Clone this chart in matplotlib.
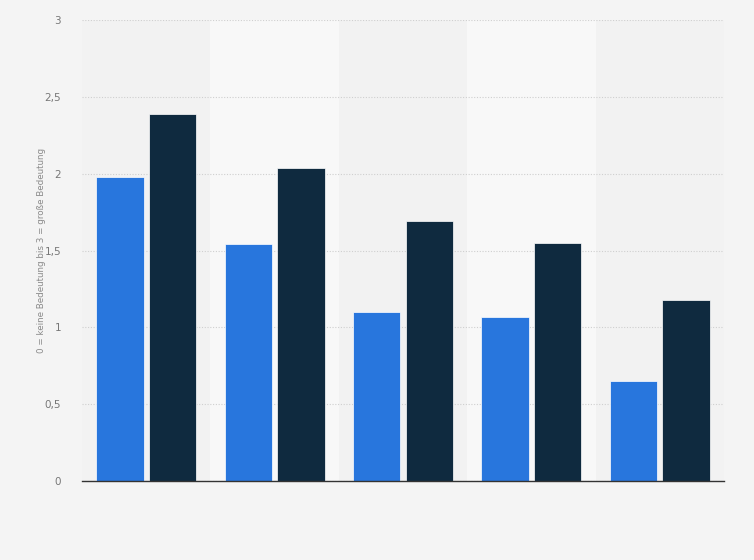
import matplotlib
matplotlib.use("Agg")
import matplotlib.pyplot as plt
import numpy as np

categories = ["1", "2", "3", "4", "5"]
series_a = [1.98, 1.54, 1.10, 1.07, 0.65]
series_b = [2.39, 2.04, 1.69, 1.55, 1.18]
yticks = [0, 0.5, 1, 1.5, 2, 2.5, 3]
ytick_labels = ["0", "0,5", "1", "1,5", "2", "2,5", "3"]
ylabel = "0 = keine Bedeutung bis 3 = große Bedeutung"

fig = plt.figure(figsize=(7.54, 5.6), dpi=100, facecolor="#f4f4f4")
ax = fig.add_axes([82/754, 79/560, 642/754, 461/560])
ax.set_facecolor("#f2f2f2")

x = np.arange(len(categories))
for i in range(len(categories)):
    if i % 2 == 1:
        ax.axvspan(i - 0.5, i + 0.5, color="#f8f8f8", zorder=0, lw=0)

ax.set_ylim(0, 3)
ax.set_xlim(-0.5, len(categories) - 0.5)
ax.set_yticks(yticks)
ax.set_yticklabels(ytick_labels)
ax.yaxis.grid(True, linestyle=(0, (1, 1.5)), color="#cfcfcf", linewidth=0.8, zorder=1)
ax.set_axisbelow(True)

w = 0.37
ax.bar(x - 0.205, series_a, width=w, color="#2876dd", edgecolor="#ffffff", linewidth=0.5, zorder=2)
ax.bar(x + 0.205, series_b, width=w, color="#0f2a3f", edgecolor="#ffffff", linewidth=0.5, zorder=2)

ax.set_xticks([])
for s in ["top", "right", "left"]:
    ax.spines[s].set_visible(False)
ax.spines["bottom"].set_color("#333333")
ax.spines["bottom"].set_linewidth(1.0)
ax.spines["bottom"].set_zorder(3)
ax.tick_params(axis="y", length=0, pad=15, labelsize=7.5, labelcolor="#777777")
ax.set_ylabel(ylabel, fontsize=6.3, color="#8a8a8a")
ax.yaxis.set_label_coords((46 - 82) / 642, 0.5)

fig.savefig("out.png", dpi=100, facecolor=fig.get_facecolor())
